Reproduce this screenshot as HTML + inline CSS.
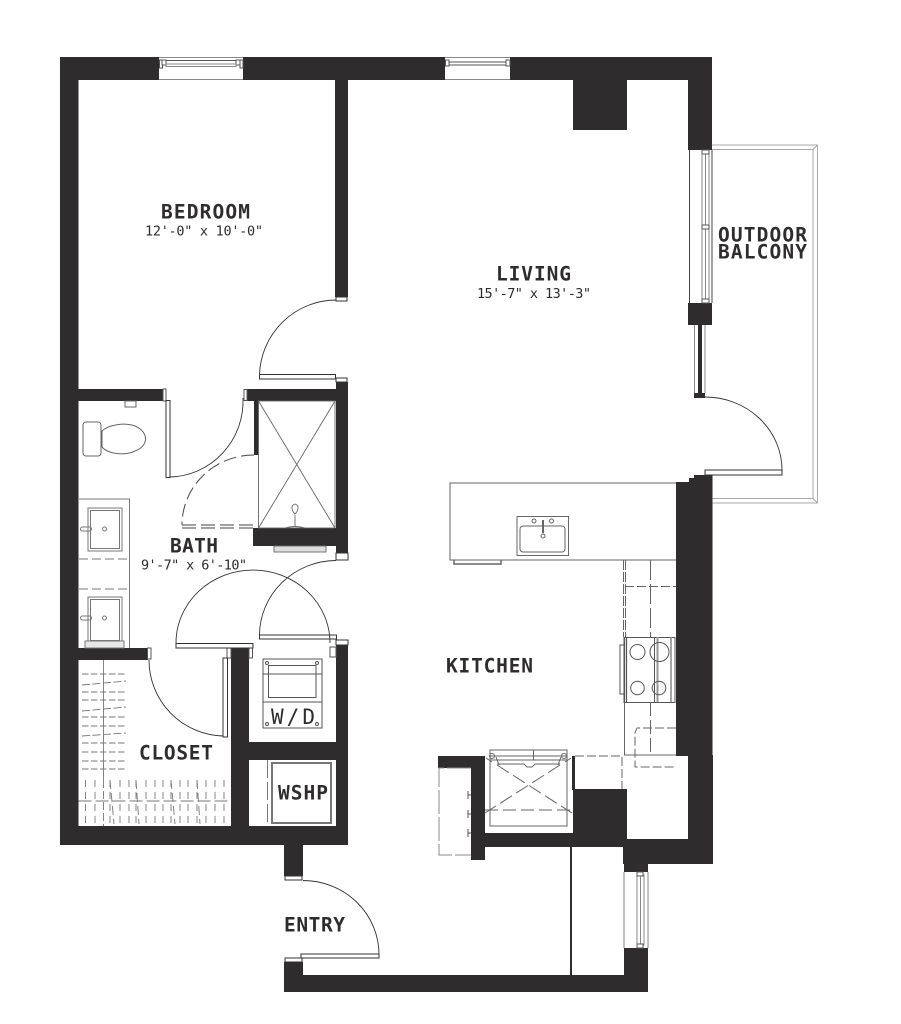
<!DOCTYPE html>
<html><head><meta charset="utf-8"><style>
html,body{margin:0;padding:0;background:#fff}
svg{display:block}
.b{font-family:"DejaVu Sans Mono","Liberation Mono",monospace;font-weight:bold;font-size:19.5px;fill:#2e2c2d}
.r{font-family:"DejaVu Sans Mono","Liberation Mono",monospace;font-size:13.5px;fill:#2e2c2d}
</style></head><body>
<svg width="901" height="1024" viewBox="0 0 901 1024" xmlns="http://www.w3.org/2000/svg">
<rect width="901" height="1024" fill="#fff"/>
<!-- balcony -->
<g fill="none" stroke="#a8a8a8" stroke-width="1">
<path d="M712 145H817.500V503H712"/><path d="M712 149.500H813V498.500H712"/><path d="M813 149.500L817.500 145M813 498.500L817.500 503"/>
</g>
<!-- walls -->
<g fill="#2e2c2d">
<rect x="60" y="57" width="99" height="23"/>
<rect x="243" y="57" width="202" height="23"/>
<rect x="510" y="57" width="202" height="23"/>
<rect x="60" y="57" width="18.500" height="788"/>
<rect x="60" y="826" width="288" height="19"/>
<rect x="688" y="57" width="24" height="93"/>
<rect x="573" y="80" width="54" height="50"/>
<rect x="335" y="80" width="13" height="217"/>
<rect x="688" y="303" width="24" height="22"/>
<rect x="698" y="325" width="4" height="72"/>
<rect x="694" y="393" width="11" height="5"/>
<rect x="78" y="389" width="85" height="12"/>
<rect x="247" y="389" width="101" height="12"/>
<rect x="336" y="382" width="12" height="171"/>
<rect x="254" y="401" width="4.500" height="54"/>
<rect x="253" y="528" width="95" height="18"/>
<rect x="78" y="648" width="70" height="12"/>
<rect x="231" y="648" width="18" height="197"/>
<rect x="231" y="742" width="117" height="18"/>
<rect x="336" y="645" width="12" height="200"/>
<rect x="284" y="845" width="19" height="31"/>
<rect x="284" y="962" width="19" height="30"/>
<rect x="284" y="975" width="364" height="17"/>
<rect x="624" y="948" width="24" height="44"/>
<rect x="623" y="839" width="89" height="25"/>
<rect x="624" y="839" width="24" height="33"/>
<rect x="688" y="755" width="25" height="109"/>
<path d="M676 482H689V478H694V475H712.500V756H676Z"/>
<rect x="573" y="789" width="54" height="58"/>
<rect x="471" y="833" width="156" height="14"/>
<rect x="438" y="756" width="47" height="12"/>
<rect x="471" y="756" width="14" height="104"/>
<rect x="572" y="756" width="3" height="34"/>
<rect x="570" y="847" width="2" height="128"/>
</g>
<!-- windows -->
<g fill="#fff" stroke="#555" stroke-width="1">
<path d="M159 57.500H243M159 79.500H243" stroke="#888" fill="none"/>
<path d="M445 57.500H510M445 79.500H510" stroke="#888" fill="none"/>
<rect x="162" y="60.500" width="78" height="3.500"/>
<rect x="159.500" y="60" width="3" height="8"/>
<rect x="162" y="60" width="4" height="5"/>
<rect x="236" y="60" width="4" height="5"/>
<rect x="240" y="60" width="3" height="8"/>
<rect x="166" y="64" width="70" height="2.500" stroke="#888"/>
<rect x="449" y="62" width="57" height="3"/>
<rect x="445.500" y="60" width="3.500" height="6"/>
<rect x="506" y="60" width="4" height="6"/>
<!-- right wall window -->
<path d="M689.500 150V303M712 150V303" fill="none" stroke="#444"/>
<rect x="702" y="153" width="7" height="147" stroke="#888"/>
<path d="M705.500 153V300" stroke="#888" fill="none"/>
<rect x="702" y="150" width="7" height="4"/>
<rect x="702" y="225" width="7" height="4"/>
<rect x="702" y="299" width="7" height="4"/>
<!-- narrow window -->
<path d="M694.500 325V393M705 325V393" fill="none" stroke="#888"/>
<!-- lower window -->
<path d="M624 872V948M648 872V948" fill="none" stroke="#888"/>
<rect x="637" y="875" width="7" height="70" stroke="#888"/>
<path d="M640.500 875V945" fill="none" stroke="#888"/>
<rect x="637" y="872" width="6" height="4"/>
<rect x="637" y="944" width="6" height="4"/>
<!-- caps -->
<rect x="336" y="297" width="11" height="4" stroke="#333"/>
<rect x="336" y="378" width="11" height="4" stroke="#333"/>
<rect x="336" y="553" width="12" height="7" stroke="#333"/>
<rect x="336" y="640" width="12" height="5" stroke="#333"/>
<rect x="330" y="647" width="6" height="10" stroke="#555"/>
<rect x="163" y="389" width="3" height="12" stroke="#555"/>
<rect x="244" y="389.500" width="3" height="11" stroke="#555"/>
<rect x="147.500" y="648" width="3.500" height="11" stroke="#555"/>
<rect x="227" y="648" width="4" height="10" stroke="#555"/>
<rect x="249" y="648" width="3.500" height="10" stroke="#555"/>
<rect x="285" y="876" width="17" height="4" stroke="#333"/>
<rect x="285" y="958" width="17" height="4" stroke="#333"/>
</g>
<!-- door panels -->
<g fill="#fff" stroke="#333" stroke-width="1">
<rect x="259.500" y="374.500" width="76" height="4.500" stroke="#333"/>
<rect x="166" y="400.500" width="4" height="77"/>
<rect x="176" y="643.500" width="77" height="4.500"/>
<rect x="259.500" y="635" width="77" height="4"/>
<rect x="223" y="658" width="4.500" height="79"/>
<rect x="705" y="470" width="77" height="5"/>
<rect x="301" y="954" width="78" height="4"/>
</g>
<!-- door arcs -->
<g fill="none" stroke="#333" stroke-width="0.900">
<path d="M336 300A77 77 0 0 0 259.500 375"/>
<path d="M170 477A75 76 0 0 0 243 398"/>
<path d="M176 643A77 73 0 0 1 330 643"/>
<path d="M259.500 635A77 75 0 0 1 336 560.500"/>
<path d="M149 660A76 76 0 0 0 223 736"/>
<path d="M705 397A77 73 0 0 1 782 470"/>
<path d="M303 880.500A76 74 0 0 1 379 954"/>
</g>
<g fill="none" stroke="#444" stroke-width="1">
<path d="M254 455A72 70 0 0 0 182 525" stroke-dasharray="13 5"/>
<path d="M182 525H254M182 528H254" stroke-dasharray="14 5"/>
</g>
<!-- shower -->
<g fill="none" stroke="#666" stroke-width="0.900">
<rect x="258.500" y="401" width="76.500" height="127"/>
<path d="M258.500 401L335 528M335 401L258.500 528"/>
<path d="M295 527V515"/>
<path d="M295 514C291 510 291 505 295 504C299 505 299 510 295 514Z"/>
<path d="M285 528Q295 525 305 528"/>
<rect x="274" y="546" width="52" height="6" fill="#ddd"/>
</g>
<!-- toilet -->
<g fill="none" stroke="#666" stroke-width="1">
<rect x="83" y="422" width="18" height="34" rx="3"/>
<path d="M102 431C108 425 125 422 135 426C149 432 149 446 135 451C125 456 108 454 102 447Z"/>
<rect x="125" y="401" width="11" height="6"/>
</g>
<!-- vanity -->
<g fill="none" stroke="#777" stroke-width="1">
<path d="M79 499H129.500V648"/>
<path d="M79 559H129.500M79 589H129.500" stroke-dasharray="9 4"/>
<rect x="88" y="508" width="34" height="43"/><rect x="90.500" y="510.500" width="29" height="38"/>
<rect x="88" y="597" width="34" height="44"/><rect x="90.500" y="599.500" width="29" height="41"/>
<circle cx="104.500" cy="529" r="2"/><circle cx="104.500" cy="618" r="2"/>
<rect x="80.500" y="527" width="11" height="4" rx="2"/><rect x="80.500" y="616" width="11" height="4" rx="2"/>
<rect x="85" y="641" width="39" height="7" fill="#e8e8e8"/>
</g>
<!-- closet shelves -->
<g fill="none" stroke="#777" stroke-width="0.900">
<path d="M103.500 660V780"/><path d="M103.500 780V826" stroke-dasharray="8 3"/>
<path d="M82 674H126M82 692H126M82 700H126M82 717H126M82 726H126M82 743H126M82 752H126M82 761H126M82 769H126" stroke-dasharray="6.500 2.500"/>
<path d="M82 685L126 681M82 711L126 707M82 736L126 733" stroke-dasharray="8 2.500"/>
<path d="M78.500 801H231" stroke-dasharray="13 4"/>
<path d="M85.500 780V824M95 780V824M110 780V824M120 780V824M129 780V824M136 780V824M146 780V824M155 780V824M163 780V824M171 780V824M180 780V824M188 780V824M197 780V824M206 780V824M215 780V824M224 780V824" stroke-dasharray="7 5"/>
<path d="M110 780L114 824M136 780L139 824M171 780L175 824M197 780L200 824" stroke-dasharray="9 4"/>
</g>
<!-- W/D -->
<g fill="none" stroke="#555" stroke-width="1">
<rect x="263" y="659" width="59" height="69"/>
<rect x="268.500" y="665.500" width="47.500" height="32"/>
<path d="M263 702H322M263 674H322"/>
<circle cx="267" cy="663" r="1.500"/><circle cx="317" cy="663" r="1.500"/>
<circle cx="267" cy="724" r="1.500"/><circle cx="317" cy="724" r="1.500"/>
</g>
<!-- WSHP -->
<g fill="none" stroke="#777" stroke-width="1">
<rect x="271.500" y="762.500" width="60" height="61"/>
<rect x="272.500" y="763.500" width="58" height="59"/>
<path d="M267.500 760V826" stroke-dasharray="18 4"/>
</g>
<!-- kitchen counter -->
<g fill="none" stroke="#666" stroke-width="1">
<path d="M676 483H450V560H676" fill="#fff"/>
<path d="M454 560V564H501V560" stroke-width="1.500"/>
<rect x="517" y="516.500" width="51.500" height="39"/>
<rect x="520" y="526" width="45" height="26" rx="3"/>
<circle cx="534" cy="521" r="2"/><circle cx="551.500" cy="521" r="2"/><circle cx="543" cy="536" r="2"/>
<path d="M543 520V533" stroke-width="2"/>
<path d="M623.500 560V637M625.500 560V637" stroke-dasharray="10 2"/>
<path d="M650.500 560V637" stroke-dasharray="20 4"/>
<path d="M625 586.500H676" stroke-dasharray="9 3"/>
<path d="M624.500 702V755H676"/>
<path d="M650.500 702V755" stroke-dasharray="14 4"/>
<path d="M676 728H637L635 733V767H676" stroke-dasharray="9 3"/>
<path d="M575 756H622V789" stroke-dasharray="9 3"/>
</g>
<!-- stove -->
<g fill="none" stroke="#555" stroke-width="1">
<rect x="624" y="637.500" width="51" height="65"/>
<path d="M624.500 637V702M626.500 637V702" stroke-width="1.200"/>
<path d="M654.500 637V702"/><path d="M657.500 637V702" stroke="#999" stroke-width="2"/>
<path d="M671 637V702" stroke="#888" stroke-width="1.500"/>
<rect x="620" y="645" width="4" height="49"/>
<circle cx="637.500" cy="652" r="7.500"/><circle cx="659.500" cy="652" r="9.500"/>
<circle cx="637.500" cy="688" r="6.800"/><circle cx="659" cy="688" r="6.800"/>
</g>
<!-- fridge -->
<g fill="none" stroke="#666" stroke-width="1">
<rect x="490" y="750" width="77" height="10"/>
<path d="M533.500 750V760"/>
<rect x="490" y="756" width="77" height="70"/>
<path d="M497 764H524L527 767H532L535 764H560" />
<path d="M485 810H573" stroke-dasharray="13 5"/>
<path d="M497 765L572 813M560 765L485 813" stroke-dasharray="14 5"/>
<circle cx="492" cy="756" r="2.500"/><circle cx="564" cy="756" r="2.500"/>
<path d="M486 758L492 762M571 758L565 762M496 757L499 765M561 757L558 765"/>
</g>
<!-- pantry -->
<g fill="none" stroke="#888" stroke-width="1">
<path d="M471 768H439V855H471" stroke-dasharray="24 3"/>
<path d="M471 795H468M471 814H468M471 833H468M468 791V799M468 810V818M468 829V837" stroke="#555"/>
</g>
<!-- labels -->
<text class="b" x="161" y="218.500" textLength="89" lengthAdjust="spacing">BEDROOM</text>
<text class="r" x="145" y="235.500" textLength="118" lengthAdjust="spacing">12'-0" x 10'-0"</text>
<text class="b" x="496" y="280.500" textLength="75" lengthAdjust="spacing">LIVING</text>
<text class="r" x="477" y="298" textLength="114" lengthAdjust="spacing">15'-7" x 13'-3"</text>
<text class="b" x="718" y="241.500" textLength="89" lengthAdjust="spacing">OUTDOOR</text>
<text class="b" x="718" y="258.500" textLength="89" lengthAdjust="spacing">BALCONY</text>
<text class="b" x="170" y="552.500" textLength="48" lengthAdjust="spacing">BATH</text>
<text class="r" x="141" y="569.500" textLength="106" lengthAdjust="spacing">9'-7" x 6'-10"</text>
<text class="b" x="446" y="672.500" textLength="87" lengthAdjust="spacing">KITCHEN</text>
<text class="b" x="139" y="759.500" textLength="74" lengthAdjust="spacing">CLOSET</text>
<text class="b" x="278" y="799.500" textLength="50" lengthAdjust="spacing">WSHP</text>
<text class="r" x="271" y="724" style="font-size:21px" textLength="44" lengthAdjust="spacing">W/D</text>
<text class="b" x="284" y="931.500" textLength="61" lengthAdjust="spacing">ENTRY</text>
</svg>
</body></html>
